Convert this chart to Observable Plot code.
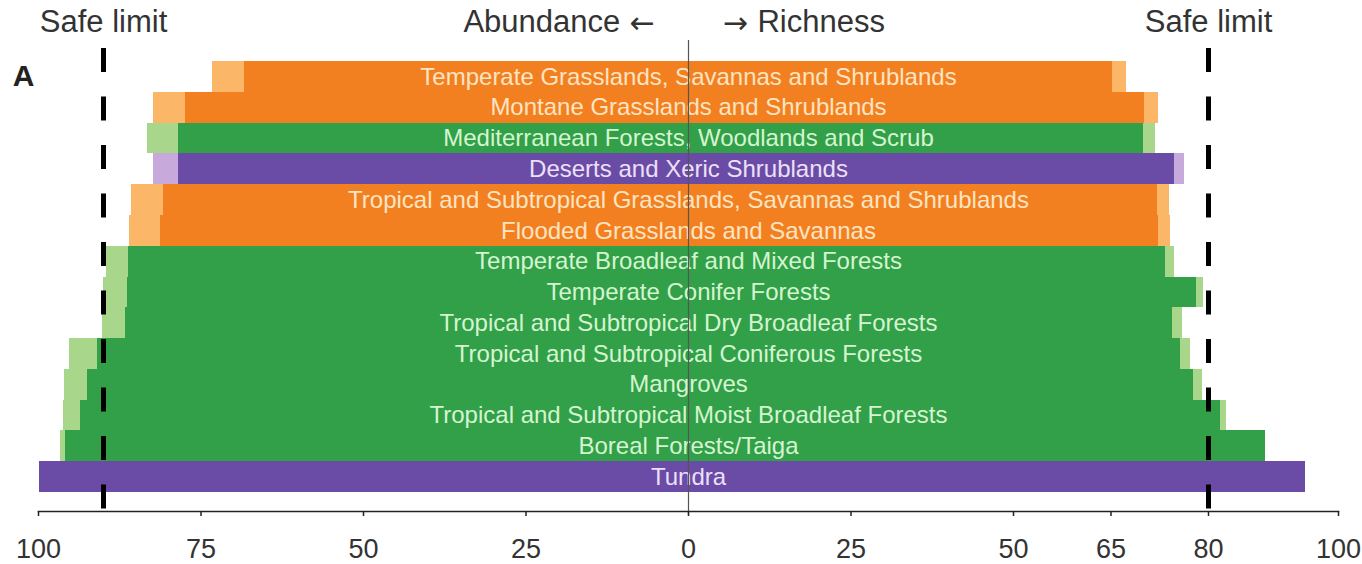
<!DOCTYPE html>
<html>
<head>
<meta charset="utf-8">
<script src="https://cdn.jsdelivr.net/npm/d3@7"></script>
<script src="https://cdn.jsdelivr.net/npm/@observablehq/plot@0.6"></script>
<style>
  html, body { margin: 0; padding: 0; background: #fff; }
  #chart svg { display: block; }
</style>
</head>
<body>
<div id="chart"></div>
<script>
// ---- Data ----
const biomes = [
  "Temperate Grasslands, Savannas and Shrublands",
  "Montane Grasslands and Shrublands",
  "Mediterranean Forests, Woodlands and Scrub",
  "Deserts and Xeric Shrublands",
  "Tropical and Subtropical Grasslands, Savannas and Shrublands",
  "Flooded Grasslands and Savannas",
  "Temperate Broadleaf and Mixed Forests",
  "Temperate Conifer Forests",
  "Tropical and Subtropical Dry Broadleaf Forests",
  "Tropical and Subtropical Coniferous Forests",
  "Mangroves",
  "Tropical and Subtropical Moist Broadleaf Forests",
  "Boreal Forests/Taiga",
  "Tundra"
];
const biomeTypes = [
  "grass", "grass", "forest", "desert", "grass", "grass",
  "forest", "forest", "forest", "forest", "forest", "forest", "forest", "desert"
];
// Abundance (left side): darker bar and lighter extension
const abundanceDark  = [68.3, 77.4, 78.5, 78.5, 80.8, 81.2, 86.1, 86.3, 86.6, 91.0, 92.4, 93.5, 95.8, 99.8];
const abundanceLight = [73.3, 82.3, 83.3, 82.3, 85.7, 86.0, 89.5, 90.0, 90.2, 95.3, 96.0, 96.1, 96.6, 99.8];
// Richness (right side)
const richnessDark   = [65.2, 70.1, 70.0, 74.8, 72.2, 72.3, 73.4, 78.2, 74.5, 75.7, 77.7, 81.8, 88.8, 94.9];
const richnessLight  = [67.4, 72.3, 71.8, 76.3, 74.0, 74.2, 74.8, 79.3, 76.0, 77.2, 79.0, 82.8, 88.8, 94.9];

const safeAbundance = 90;
const safeRichness = 80;
const tickValues = [-100, -75, -50, -25, 0, 25, 50, 65, 80, 100];

const typeNames  = ["grass", "forest", "desert"];
const darkColors  = ["#f38020", "#31a049", "#6a4ca6"];
const lightColors = ["#fbb667", "#a8d68a", "#c7a9dc"];
const textColors  = ["#fde4c2", "#d5f5d0", "#ece0f8"];

const headerWords = [
  {label: "Safe limit", x: -safeAbundance, anchor: "middle"},
  {label: "Abundance", x: -10.5, anchor: "end"},
  {label: "Richness", x: 10.6, anchor: "start"},
  {label: "Safe limit", x: safeRichness, anchor: "middle"}
];
const headerArrows = [
  {label: "\u2190", x: -7.1},
  {label: "\u2192", x: 7.2}
];

// ---- Build table ----
const rows = biomes.map((name, i) => {
  const t = typeNames.indexOf(biomeTypes[i]);
  return {
    name,
    aD: abundanceDark[i], aL: abundanceLight[i],
    rD: richnessDark[i], rL: richnessLight[i],
    dark: darkColors[t], light: lightColors[t], text: textColors[t]
  };
});

const headerStyle = {x: "x", text: "label", frameAnchor: "top", lineAnchor: "middle", dy: -39, fontSize: 31, fill: "#333"};

const chart = Plot.plot({
  width: 1362,
  height: 564,
  marginTop: 61,
  marginBottom: 53,
  marginLeft: 38,
  marginRight: 24,
  style: {fontFamily: "'Liberation Sans', Arial, Helvetica, sans-serif", background: "#fff"},
  x: {domain: [-100, 100], label: null},
  y: {domain: biomes, padding: 0, axis: null, insetBottom: 19, round: false},
  color: {type: "identity"},
  marks: [
    // light extensions
    Plot.barX(rows, {x1: d => 0, x2: d => -d.aL, y: "name", fill: "light", shapeRendering: "crispEdges"}),
    Plot.barX(rows, {x1: d => 0, x2: d => d.rL, y: "name", fill: "light", shapeRendering: "crispEdges"}),
    // dark bars
    Plot.barX(rows, {x1: d => -d.aD, x2: d => d.rD, y: "name", fill: "dark", shapeRendering: "crispEdges"}),
    // labels
    Plot.text(rows, {x: d => 0, y: "name", text: "name", fill: "text", fontSize: 24, textAnchor: "middle"}),
    // center line
    Plot.ruleX([0], {stroke: "#555", strokeWidth: 1.2, insetTop: -21, insetBottom: -4}),
    // safe limits
    Plot.ruleX([-safeAbundance, safeRichness], {stroke: "#000", strokeWidth: 5, strokeDasharray: "24,24.5", insetTop: -13}),
    // axis
    Plot.frame({anchor: "bottom", stroke: "#222", strokeWidth: 1.5}),
    Plot.axisX({
      ticks: tickValues,
      tickFormat: d => Math.abs(d),
      label: null,
      tickSize: 5,
      tickPadding: 22,
      fontSize: 27,
      color: "#333",
      stroke: "#222",
      strokeWidth: 1.5
    }),
    // headers
    Plot.text(headerWords.filter(h => h.anchor === "middle"), {...headerStyle, textAnchor: "middle"}),
    Plot.text(headerWords.filter(h => h.anchor === "end"), {...headerStyle, textAnchor: "end"}),
    Plot.text(headerWords.filter(h => h.anchor === "start"), {...headerStyle, textAnchor: "start"}),
    Plot.text(headerArrows, {x: "x", text: "label", frameAnchor: "top", lineAnchor: "middle", dy: -38, fontSize: 30, fill: "#333", textAnchor: "middle", fontFamily: "'DejaVu Sans', sans-serif"}),
    Plot.text(["A"], {frameAnchor: "top-left", lineAnchor: "middle", dx: -15, dy: 15, fontSize: 30, fontWeight: "bold", fill: "#222", textAnchor: "middle"})
  ]
});

document.getElementById("chart").appendChild(chart);
</script>
</body>
</html>
